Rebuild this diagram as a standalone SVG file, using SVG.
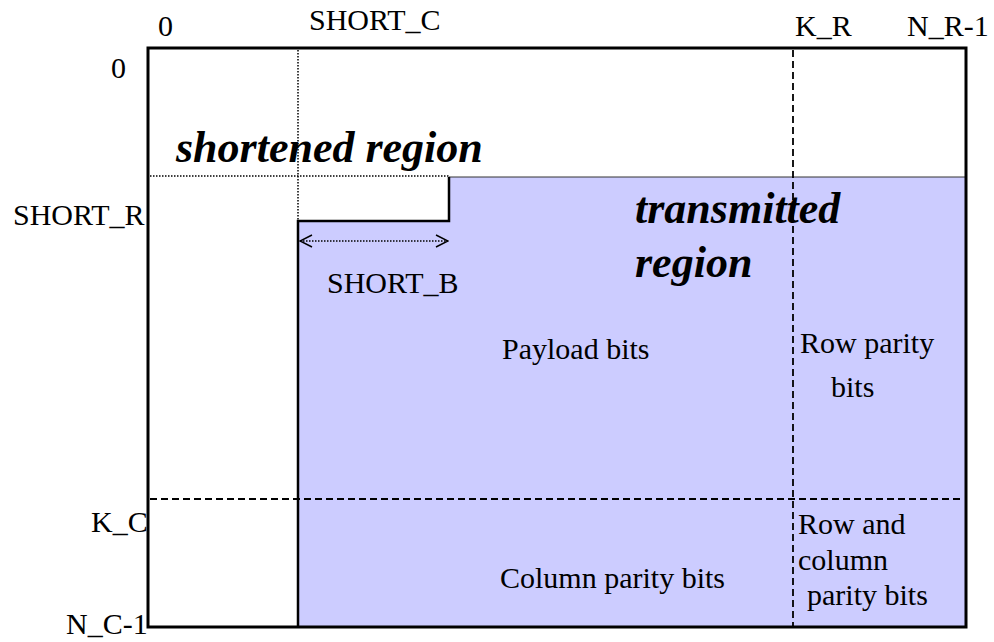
<svg xmlns="http://www.w3.org/2000/svg" width="994" height="642" viewBox="0 0 994 642">
<style>
.t{font-family:"Liberation Serif","Times New Roman",serif;font-size:30px;fill:#000}
.b{font-family:"Liberation Serif","Times New Roman",serif;font-size:44px;font-weight:bold;font-style:italic;fill:#000}
.dash{stroke:#000;stroke-width:1.8;stroke-dasharray:7,4;fill:none}
.dot{stroke:#000;stroke-width:1.5;stroke-dasharray:1.5,1.5;fill:none}
</style>
<defs>
<marker id="chev" viewBox="0 0 14 14" refX="13" refY="7" markerWidth="14" markerHeight="14" markerUnits="userSpaceOnUse" orient="auto-start-reverse">
<path d="M1,1 L13,7 L1,13" fill="none" stroke="#000" stroke-width="1.5"/>
</marker>
</defs>
<rect width="994" height="642" fill="#fff"/>
<g id="transmitted">
<polygon points="298,221 449,221 449,177 966,177 966,627 298,627" fill="#CCCCFF"/>
<line x1="449" y1="177" x2="966" y2="177" stroke="#333" stroke-width="1"/>
<polyline points="298,627 298,221 449,221 449,177" fill="none" stroke="#000" stroke-width="2.5"/>
</g>
<g id="matrix">
<rect x="148" y="48" width="818" height="579" fill="none" stroke="#000" stroke-width="3"/>
</g>
<g id="connectors">
<line class="dash" x1="793" y1="50" x2="793" y2="626"/>
<line class="dash" x1="150" y1="499" x2="964" y2="499"/>
<line class="dot" x1="298" y1="50" x2="298" y2="221"/>
<line class="dot" x1="150" y1="176" x2="449" y2="176"/>
<line class="dot" x1="300" y1="241" x2="448" y2="241" marker-start="url(#chev)" marker-end="url(#chev)"/>
</g>
<g id="labels">
<text class="t" x="158" y="36">0</text>
<text class="t" x="309" y="30">SHORT_C</text>
<text class="t" x="795" y="36">K_R</text>
<text class="t" x="907" y="36">N_R-1</text>
<text class="t" x="111" y="78">0</text>
<text class="t" x="13" y="225">SHORT_R</text>
<text class="t" x="91" y="532">K_C</text>
<text class="t" x="66" y="634">N_C-1</text>
<text class="t" x="327" y="293">SHORT_B</text>
</g>
<g id="regions">
<text class="b" x="176" y="162">shortened region</text>
<text class="b" x="635" y="223">transmitted</text>
<text class="b" x="635" y="277">region</text>
<text class="t" x="502" y="359">Payload bits</text>
<text class="t" x="800" y="353">Row parity</text>
<text class="t" x="831" y="397">bits</text>
<text class="t" x="798" y="534">Row and</text>
<text class="t" x="798" y="570">column</text>
<text class="t" x="807" y="605">parity  bits</text>
<text class="t" x="500" y="588">Column parity bits</text>
</g>
</svg>
